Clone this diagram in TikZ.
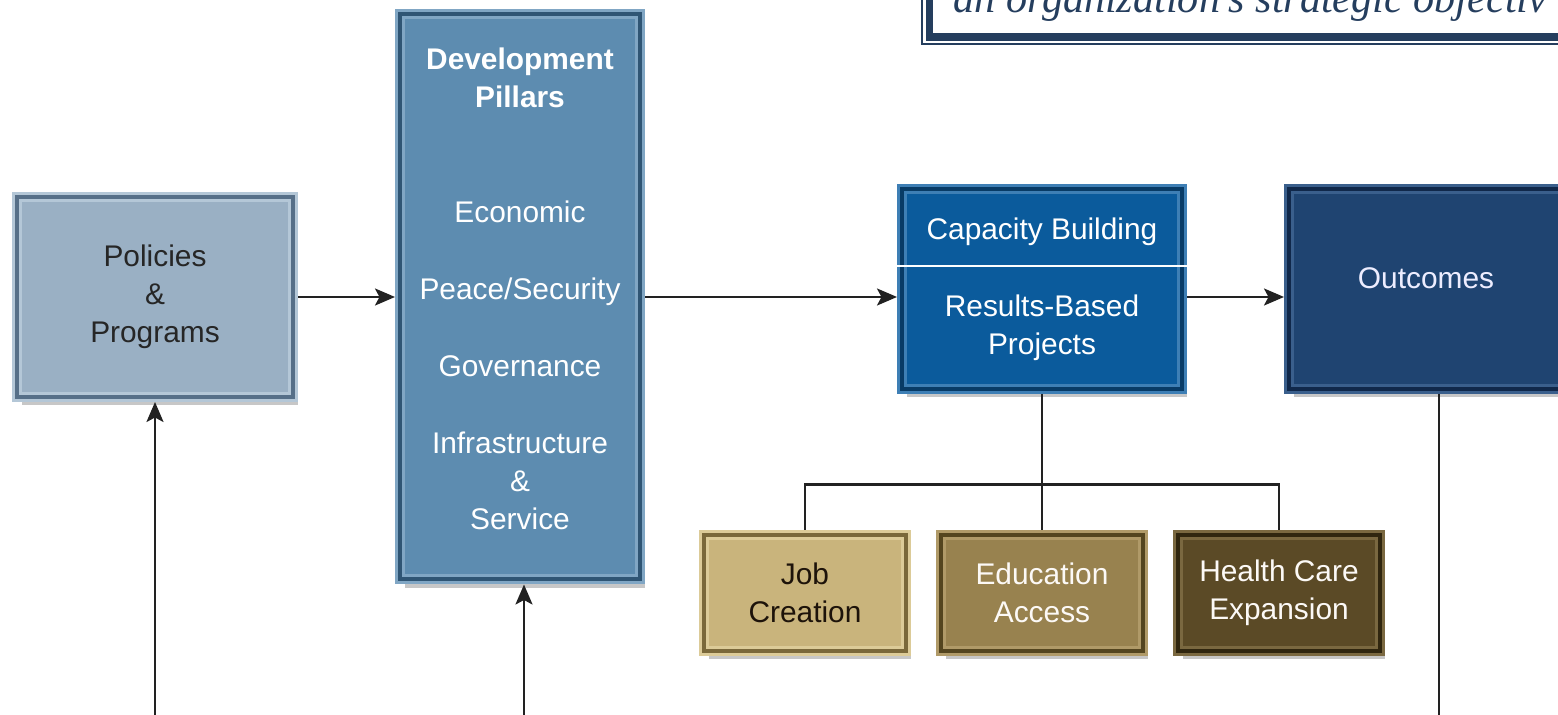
\documentclass[tikz,border=0pt]{standalone}
\usepackage{fontspec}
\setmainfont{Liberation Sans}
\newfontfamily\quotefont{Liberation Serif}
\usetikzlibrary{calc, positioning, arrows.meta, shadows}

\definecolor{polfill}{HTML}{9AB0C4}
\definecolor{pollight}{HTML}{B4C7D7}
\definecolor{poldark}{HTML}{566F88}
\definecolor{devfill}{HTML}{5D8CB0}
\definecolor{devlight}{HTML}{80A6C4}
\definecolor{devdark}{HTML}{2F5574}
\definecolor{capfill}{HTML}{0B5B9C}
\definecolor{caplight}{HTML}{3E7FB5}
\definecolor{capdark}{HTML}{083B66}
\definecolor{outfill}{HTML}{1F4471}
\definecolor{outlight}{HTML}{3A5F8C}
\definecolor{outdark}{HTML}{10284A}
\definecolor{jobfill}{HTML}{C9B47C}
\definecolor{joblight}{HTML}{DCCB98}
\definecolor{jobdark}{HTML}{7A683A}
\definecolor{edufill}{HTML}{98824F}
\definecolor{edulight}{HTML}{B09A68}
\definecolor{edudark}{HTML}{54451F}
\definecolor{heafill}{HTML}{5B4A26}
\definecolor{healight}{HTML}{7A6840}
\definecolor{headark}{HTML}{30260F}
\definecolor{navy}{HTML}{253E5E}
\definecolor{linecol}{HTML}{222222}

\tikzset{
	pbox/.style n args={3}{rectangle, fill=#1, draw=#2, double=#3, line width=0.06cm,
		double distance=0.08cm, inner sep=0pt, outer sep=0.1cm,
		drop shadow={shadow xshift=0.1cm, shadow yshift=-0.17cm, fill=black, opacity=0.22}},
	lbl/.style={font=\fontsize{17}{21.6}\selectfont, align=center},
	conn/.style={-{Stealth[length=0.4cm, width=0.34cm, inset=0.09cm]}, line width=0.05cm, draw=linecol},
	tree/.style={line width=0.045cm, draw=linecol}
}

\begin{document}
\begin{tikzpicture}

	\fill[white] (0,0) rectangle (31.16,-14.3);
	\useasboundingbox (0,0) rectangle (31.16,-14.3);
	\clip (0,0) rectangle (31.16,-14.3);

	% quote box - top right %
	\draw[navy, line width=0.04cm] (18.44,0.1) -- (18.44,-0.88) -- (31.3,-0.88);
	\draw[navy, line width=0.15cm] (18.59,0.1) -- (18.59,-0.74) -- (31.3,-0.74);
	\node[anchor=base west, inner sep=0pt, text=navy, font=\quotefont\itshape\fontsize{24}{28}\selectfont] (obj) at (19.06,-0.26) {an organization’s strategic objectiv};

	% nodes - main row %
	\node[pbox={polfill}{pollight}{poldark}, minimum width=5.52cm, minimum height=4.0cm, lbl, text=black!85] (pol) at (3.1,-5.94) {Policies\\\&\\Programs};
	\node[pbox={devfill}{devlight}{devdark}, minimum width=4.8cm, minimum height=11.3cm, right=1.94cm of pol] (dev) {};
	\node[lbl, text=white] (devtxt) at ([yshift=0.17cm]dev.center) {\textbf{Development}\\\textbf{Pillars}\\[1.54cm]Economic\\[0.78cm]Peace/Security\\[0.78cm]Governance\\[0.78cm]Infrastructure\\\&\\Service};
	\node[pbox={capfill}{caplight}{capdark}, minimum width=5.6cm, minimum height=4.0cm, lbl, text=white, right=5.04cm of dev, yshift=0.16cm] (cap) {Capacity Building\\[0.78cm]Results-Based\\Projects};
	\node[pbox={outfill}{outlight}{outdark}, minimum width=5.6cm, minimum height=4.0cm, right=1.94cm of cap] (out) {};
	\node[lbl, text=white!93!blue] (outtxt) at ([xshift=-0.06cm, yshift=0.22cm]out.center) {Outcomes};

	% nodes - projects %
	\node[pbox={edufill}{edulight}{edudark}, minimum width=4.04cm, minimum height=2.32cm, lbl, text=white!95!brown, below=2.72cm of cap] (edu) {Education\\Access};
	\node[pbox={jobfill}{joblight}{jobdark}, minimum width=4.04cm, minimum height=2.32cm, lbl, text=black!85!brown, left=0.5cm of edu] (job) {Job\\Creation};
	\node[pbox={heafill}{healight}{headark}, minimum width=4.04cm, minimum height=2.32cm, lbl, text=white!95!brown, right=0.5cm of edu] (hea) {Health Care\\Expansion};

	% free ends - bottom edge %
	\coordinate (fbpol) at (3.1,-14.3);
	\coordinate (fbdev) at (10.48,-14.3);
	\coordinate (fbout) at (28.78,-14.3);
	\coordinate (fork) at ($(cap.south)!0.665!(edu.north)$);

	% edges %
	\draw[white, line width=0.04cm] ([yshift=0.46cm]cap.west) -- ([yshift=0.46cm]cap.east);
	\draw[conn] (pol) -- (dev);
	\draw[conn] (dev) -- (cap.west |- dev);
	\draw[conn] (cap.east |- dev) -- (out.west |- dev);
	\draw[tree] (cap) -- (edu);
	\draw[tree] (job.north) |- (fork) -| (hea.north);
	\draw[conn] (fbpol) -- (pol);
	\draw[conn] (fbdev) -- (fbdev |- dev.south);
	\draw[tree] (fbout |- out.south) -- (fbout);

\end{tikzpicture}
\end{document}
